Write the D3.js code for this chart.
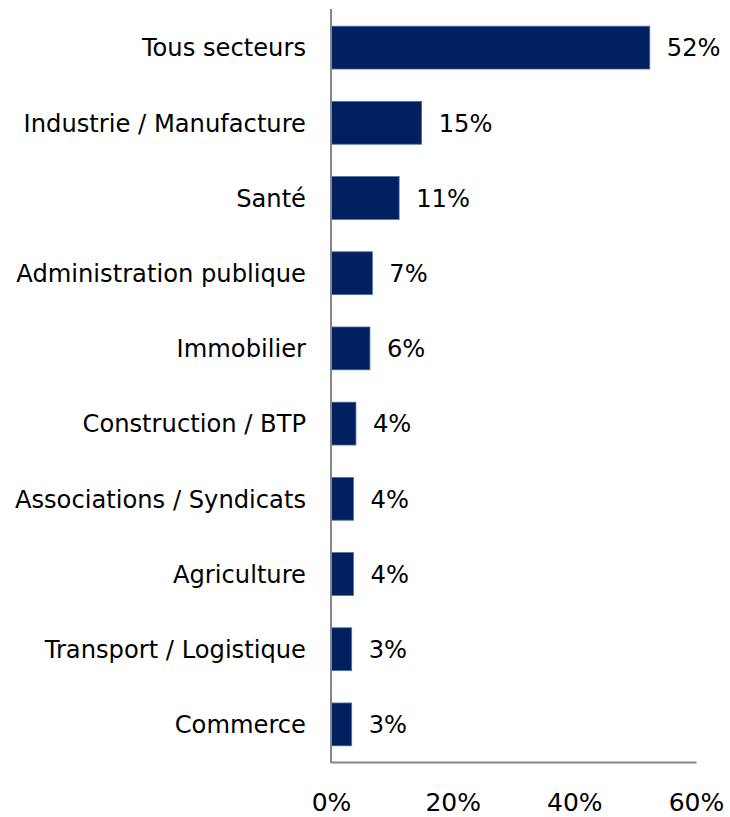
<!DOCTYPE html>
<html>
<head>
<meta charset="utf-8">
<script src="https://cdn.jsdelivr.net/npm/d3@7/dist/d3.min.js"></script>
<style>
  html, body { margin: 0; padding: 0; background: #fff; }
  svg { display: block; }
  text { font-family: Verdana, "DejaVu Sans", sans-serif; fill: #000; }
</style>
</head>
<body>
<svg id="chart" width="730" height="817"></svg>
<script>
const categories = ["Tous secteurs", "Industrie / Manufacture", "Santé", "Administration publique", "Immobilier", "Construction / BTP", "Associations / Syndicats", "Agriculture", "Transport / Logistique", "Commerce"];
const values = [52.4, 14.9, 11.2, 6.8, 6.4, 4.1, 3.7, 3.7, 3.4, 3.4];
const valueLabels = ["52%", "15%", "11%", "7%", "6%", "4%", "4%", "4%", "3%", "3%"];
const tickValues = [0, 20, 40, 60];
const tickLabels = ["0%", "20%", "40%", "60%"];

const svg = d3.select("#chart");
const x = d3.scaleLinear().domain([0, 60]).range([331, 696]);
const y = d3.scaleBand().domain(categories).range([10, 762]).paddingInner(0.43).paddingOuter(0.215);

// bars
svg.append("g").selectAll("rect").data(categories).join("rect")
  .attr("x", x(0))
  .attr("y", d => y(d))
  .attr("width", (d, i) => x(values[i]) - x(0))
  .attr("height", y.bandwidth())
  .attr("fill", "#002060")
  .attr("stroke", "#5070a8")
  .attr("stroke-width", 0.8);

// value labels
svg.append("g").selectAll("text").data(categories).join("text")
  .attr("x", (d, i) => x(values[i]) + 17)
  .attr("y", d => y(d) + y.bandwidth() / 2)
  .attr("dy", "0.36em")
  .style("font-size", "24.2px")
  .text((d, i) => valueLabels[i]);

// category labels
svg.append("g").selectAll("text").data(categories).join("text")
  .attr("x", 306)
  .attr("y", d => y(d) + y.bandwidth() / 2)
  .attr("dy", "0.36em")
  .attr("text-anchor", "end")
  .style("font-size", "24.2px")
  .text(d => d);

// x axis
const xAxis = d3.axisBottom(x).tickValues(tickValues).tickSize(0).tickPadding(31)
  .tickFormat((d, i) => tickLabels[i]);
const gx = svg.append("g").attr("transform", "translate(0,762)").call(xAxis);
gx.select(".domain").attr("stroke", "#868686").attr("stroke-width", 2);
gx.selectAll("text").style("font-size", "25px").attr("font-family", null).attr("fill", "#000");

// y axis line
svg.append("line")
  .attr("x1", x(0)).attr("x2", x(0))
  .attr("y1", 9).attr("y2", 763)
  .attr("stroke", "#868686").attr("stroke-width", 2);
</script>
</body>
</html>
